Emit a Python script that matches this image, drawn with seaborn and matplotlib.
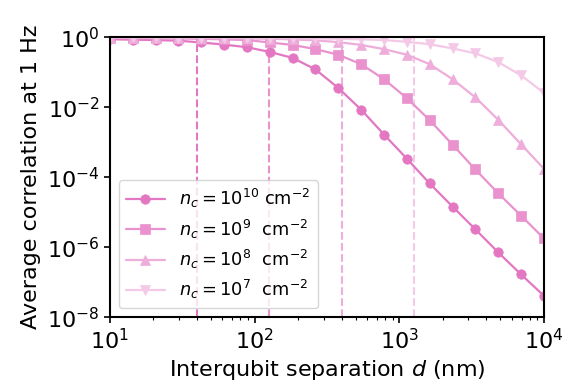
import numpy as np
import matplotlib
matplotlib.use("Agg")
import matplotlib.pyplot as plt
import seaborn as sns

# separations (nm), 20 log-spaced points from 10 to 1e4
d_nm = np.logspace(1, 4, 20)

# log10 of average correlation
log_corr_1e10 = [-0.057, -0.07, -0.08, -0.10, -0.15, -0.21, -0.285, -0.42, -0.59, -0.92,
                 -1.45, -2.07, -2.78, -3.47, -4.18, -4.84, -5.49, -6.15, -6.78, -7.39]
log_corr_1e9 = [-0.02, -0.025, -0.03, -0.035, -0.045, -0.06, -0.08, -0.15, -0.22, -0.34,
                -0.50, -0.77, -1.20, -1.74, -2.37, -3.07, -3.78, -4.46, -5.10, -5.75]
log_corr_1e8 = [-0.01, -0.012, -0.015, -0.018, -0.022, -0.028, -0.035, -0.045, -0.06, -0.09,
                -0.14, -0.22, -0.34, -0.50, -0.77, -1.20, -1.72, -2.36, -3.06, -3.76]
log_corr_1e7 = [-0.004, -0.005, -0.006, -0.008, -0.01, -0.012, -0.015, -0.02, -0.025, -0.035,
                -0.045, -0.06, -0.08, -0.13, -0.20, -0.32, -0.46, -0.71, -1.09, -1.59]

# characteristic lengths (nm) shown as dashed vertical lines
char_len = [40, 126, 400, 1265]

labels = [r"$n_c = 10^{10}$ cm$^{-2}$", r"$n_c = 10^{9}$  cm$^{-2}$",
          r"$n_c = 10^{8}$  cm$^{-2}$", r"$n_c = 10^{7}$  cm$^{-2}$"]
series = [log_corr_1e10, log_corr_1e9, log_corr_1e8, log_corr_1e7]
markers = ["o", "s", "^", "v"]

# tab:pink faded towards white
base = np.array(matplotlib.colors.to_rgb("#e377c2"))
colors = [tuple(a * base + (1 - a) * np.ones(3)) for a in (1.0, 0.8, 0.6, 0.4)]

sns.set_style("ticks")
plt.rcParams['font.family'] = ['DejaVu Sans']
plt.rcParams['mathtext.fontset'] = 'dejavusans'
for key in ["text.color", "axes.labelcolor", "xtick.color", "ytick.color", "axes.edgecolor"]:
    plt.rcParams[key] = "black"

fig, ax = plt.subplots(figsize=(5.66, 3.92), dpi=100)
fig.subplots_adjust(left=0.194, right=0.961, top=0.905, bottom=0.191)

for vals, lab, m, c in zip(series, labels, markers, colors):
    sns.lineplot(x=d_nm, y=10.0 ** np.array(vals), ax=ax, marker=m, color=c,
                 label=lab, linewidth=1.6, markersize=6.8, markeredgecolor=c,
                 markeredgewidth=0.5)

for x, c in zip(char_len, colors):
    ax.axvline(x, color=c, linestyle="--", linewidth=1.5, zorder=1)

ax.set_xscale("log")
ax.set_yscale("log")
ax.set_xlim(10, 1e4)
ax.set_ylim(1e-8, 1)
ax.set_yticks([1e0, 1e-2, 1e-4, 1e-6, 1e-8])
ax.yaxis.set_minor_locator(matplotlib.ticker.NullLocator())

ax.set_xlabel(r"Interqubit separation $d$ (nm)", fontsize=16)
ax.set_ylabel("Average correlation at 1 Hz", fontsize=16)
ax.tick_params(axis="both", which="major", labelsize=16, length=4, width=1.2)
ax.tick_params(axis="x", which="minor", length=2.5, width=0.8)
for s in ax.spines.values():
    s.set_visible(True)
    s.set_linewidth(1.5)
    s.set_color("black")

ax.legend(loc="lower left", fontsize=12.8, handlelength=2.2, labelspacing=0.4,
          framealpha=0.8)

fig.savefig("out.png", dpi=100)
